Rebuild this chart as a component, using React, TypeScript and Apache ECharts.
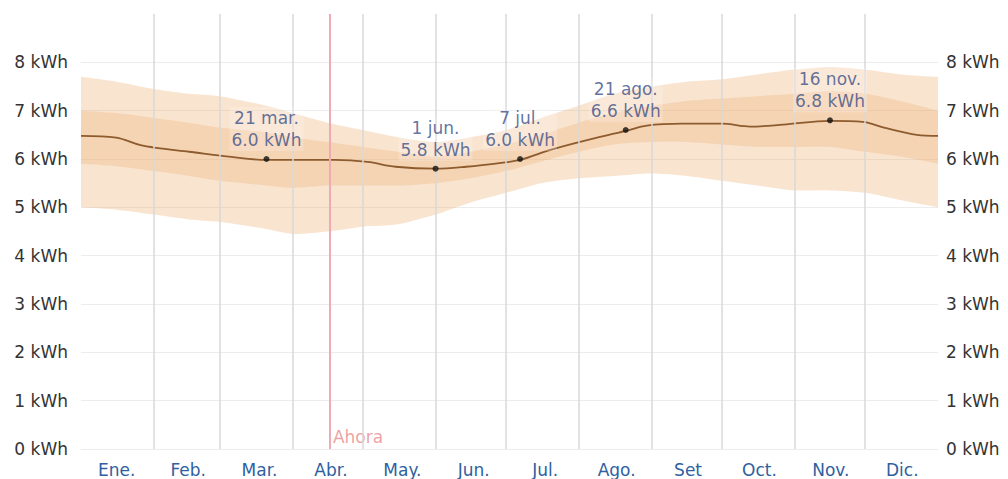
import React, { useEffect, useRef } from "react";
import * as echarts from "echarts";

// Month labels and month boundaries (day of year, 0 = 1 Jan)
const monthLabels = ["Ene.", "Feb.", "Mar.", "Abr.", "May.", "Jun.", "Jul.", "Ago.", "Set", "Oct.", "Nov.", "Dic."];
const monthStartDays = [31, 59, 90, 120, 151, 181, 212, 243, 273, 304, 334];
const nowDay = 106;
const nowLabel = "Ahora";
const nowLabelValue = 0.25;

// Mean daily incident shortwave solar energy (kWh)
const meanDays = [0, 15, 25, 32, 46, 63, 79, 93, 108, 122, 134, 151, 164, 179, 187, 200, 213, 232, 241, 256, 273, 285, 299, 319, 333, 342, 356, 365];
const meanValues = [6.48, 6.44, 6.29, 6.23, 6.15, 6.05, 5.98, 5.98, 5.98, 5.94, 5.84, 5.8, 5.84, 5.92, 5.98, 6.19, 6.36, 6.58, 6.69, 6.73, 6.73, 6.67, 6.71, 6.79, 6.77, 6.65, 6.5, 6.48];

// Percentile bands
const bandDays = [0, 15, 31, 46, 59, 79, 90, 105, 120, 135, 151, 166, 181, 196, 212, 227, 243, 258, 273, 288, 304, 319, 334, 349, 365];
const p90 = [7.7, 7.6, 7.45, 7.35, 7.3, 7.1, 6.95, 6.75, 6.6, 6.45, 6.35, 6.45, 6.6, 6.85, 7.1, 7.35, 7.5, 7.6, 7.65, 7.75, 7.85, 7.9, 7.85, 7.75, 7.7];
const p75 = [7.0, 6.95, 6.85, 6.75, 6.65, 6.55, 6.45, 6.35, 6.25, 6.15, 6.05, 6.15, 6.3, 6.5, 6.75, 6.95, 7.1, 7.2, 7.25, 7.3, 7.35, 7.4, 7.35, 7.2, 7.0];
const p25 = [5.9, 5.85, 5.75, 5.65, 5.55, 5.45, 5.4, 5.45, 5.45, 5.45, 5.5, 5.6, 5.75, 5.95, 6.15, 6.3, 6.35, 6.35, 6.3, 6.25, 6.25, 6.25, 6.15, 6.05, 5.9];
const p10 = [5.0, 4.95, 4.85, 4.75, 4.7, 4.55, 4.45, 4.5, 4.6, 4.65, 4.85, 5.1, 5.3, 5.5, 5.6, 5.65, 5.7, 5.65, 5.55, 5.45, 5.35, 5.35, 5.3, 5.15, 5.0];

// Annotated points
const annNames = ["21 mar.", "1 jun.", "7 jul.", "21 ago.", "16 nov."];
const annDays = [79, 151, 187, 232, 319];
const annValues = [6.0, 5.8, 6.0, 6.6, 6.8];

const FONT = "DejaVu Sans";
const Y_MAX = 9;

export default function App() {
  const ref = useRef<HTMLDivElement>(null);
  useEffect(() => {
    if (!ref.current) return;
    const chart = echarts.init(ref.current, undefined, { renderer: "svg" });
    const pair = (xs: number[], ys: number[]) => xs.map((x, i) => [x, ys[i]]);
    const bandRows = (lo: number[], hi: number[]) => bandDays.map((d, i) => [d, lo[i], hi[i]]);
    const bandRender = (lo: number[], hi: number[], color: string) => (params: any, api: any) => {
      if (params.dataIndex !== 0) return null;
      const top = bandDays.map((d, i) => api.coord([d, hi[i]]));
      const bottom = bandDays.map((d, i) => api.coord([d, lo[i]])).reverse();
      // repeat the corner points so the smoothing keeps the vertical ends straight
      const pts = [top[0], ...top, top[top.length - 1], bottom[0], ...bottom, bottom[bottom.length - 1]];
      return {
        type: "polygon",
        shape: { points: pts, smooth: 0.25 },
        style: { fill: color, stroke: "none" },
        silent: true,
      };
    };
    const yLabel = {
      formatter: (v: number) => (v < Y_MAX ? `${v} kWh` : ""),
      color: "#333",
      fontSize: 17,
      fontFamily: FONT,
    };
    const gridColors = Array.from({ length: Y_MAX + 1 }, (_, i) => (i < Y_MAX ? "#ececec" : "rgba(0,0,0,0)"));
    chart.setOption({
      animation: false,
      grid: { left: 81, right: 70, top: 14, bottom: 30, containLabel: false, outerBoundsMode: "none" },
      xAxis: [
        {
          type: "value",
          min: 0,
          max: 365,
          show: true,
          axisLine: { show: false },
          axisTick: { show: false },
          axisLabel: { show: false },
          splitLine: { show: false },
        },
        {
          type: "category",
          data: monthLabels,
          position: "bottom",
          boundaryGap: true,
          axisLine: { show: false },
          axisTick: { show: false },
          splitLine: { show: false },
          axisLabel: { color: "#2f5f9f", fontSize: 17, fontFamily: FONT, margin: 12 },
        },
      ],
      yAxis: [
        {
          type: "value",
          min: 0,
          max: Y_MAX,
          interval: 1,
          position: "left",
          axisLine: { show: false },
          axisTick: { show: false },
          axisLabel: { ...yLabel, margin: 13 },
          splitLine: { show: true, lineStyle: { color: gridColors, width: 1 } },
        },
        {
          type: "value",
          min: 0,
          max: Y_MAX,
          interval: 1,
          position: "right",
          axisLine: { show: false },
          axisTick: { show: false },
          axisLabel: { ...yLabel, margin: 8 },
          splitLine: { show: false },
        },
      ],
      series: [
        {
          type: "line",
          name: "boundaries",
          data: [],
          symbol: "none",
          silent: true,
          markLine: {
            silent: true,
            symbol: ["none", "none"],
            label: { show: false },
            lineStyle: { color: "#d9d9d9", width: 1.5, type: "solid" },
            data: [
              ...monthStartDays.map((d) => ({ xAxis: d })),
              { xAxis: nowDay, lineStyle: { color: "#eeabb3", width: 2, type: "solid" } },
            ],
          },
        },
        {
          type: "custom",
          name: "p10-p90",
          data: bandRows(p10, p90),
          renderItem: bandRender(p10, p90, "rgba(235,165,100,0.3)"),
          silent: true,
          clip: true,
        },
        {
          type: "custom",
          name: "p25-p75",
          data: bandRows(p25, p75),
          renderItem: bandRender(p25, p75, "rgba(235,165,100,0.26)"),
          silent: true,
          clip: true,
        },
        {
          type: "line",
          name: "mean",
          data: pair(meanDays, meanValues),
          symbol: "none",
          smooth: 0.35,
          lineStyle: { color: "#8d5b2d", width: 1.8 },
        },
        {
          type: "scatter",
          name: "ann",
          symbolSize: 6,
          itemStyle: { color: "#111" },
          data: annDays.map((d, i) => ({ value: [d, annValues[i]], name: annNames[i] })),
          label: {
            show: true,
            position: "top",
            distance: 5,
            formatter: (p: any) => `${p.name}\n${p.value[1].toFixed(1)} kWh`,
            color: "#3b4f86",
            fontSize: 17,
            lineHeight: 22,
            fontFamily: FONT,
            align: "center",
            backgroundColor: "rgba(255,255,255,0.25)",
            padding: [0, 2],
          },
          z: 5,
        },
        {
          type: "scatter",
          name: "now",
          symbolSize: 0,
          data: [[nowDay, nowLabelValue]],
          label: {
            show: true,
            position: "right",
            distance: 3,
            formatter: nowLabel,
            color: "#e98a8a",
            fontSize: 17,
            fontFamily: FONT,
          },
        },
      ],
    });
    return () => chart.dispose();
  }, []);
  return (
    <div
      ref={ref}
      style={{ position: "fixed", left: 0, top: 0, width: 1008, height: 479, background: "#fff" }}
    />
  );
}
